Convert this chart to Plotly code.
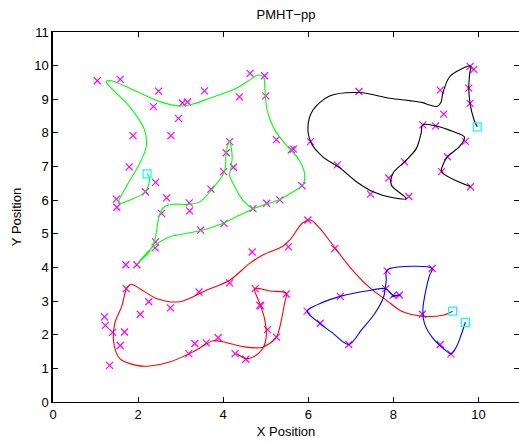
import plotly.graph_objects as go

# Measurement markers (magenta x)
mx = [1.04,1.58,2.48,2.36,3.04,3.16,2.95,3.56,4.38,4.63,4.97,5.00,1.88,2.77,5.25,5.60,5.65,4.15,4.07,4.24,4.01,1.79,2.41,2.17,3.71,5.85,1.49,1.50,2.67,3.20,3.21,4.70,5.02,5.33,2.55,3.47,4.02,2.41,2.40,1.71,1.97,
      5.99,4.68,5.53,6.62,4.15,3.43,1.72,2.25,2.76,2.05,4.75,5.48,4.86,4.88,5.04,5.25,1.21,1.23,1.40,1.68,1.58,1.33,3.33,3.60,3.88,3.19,4.28,4.53,
      7.19,9.10,9.80,9.89,9.77,9.80,9.18,8.69,8.99,9.69,9.27,9.13,9.81,6.05,6.68,8.26,7.89,7.46,8.36,
      7.85,8.91,7.82,7.99,8.14,6.75,5.97,6.28,6.95,8.68,9.10,9.35]
my = [9.55,9.59,9.24,8.78,8.89,8.92,8.43,9.25,9.07,9.77,9.70,9.10,7.92,7.92,7.80,7.50,7.52,7.74,7.41,6.98,6.85,6.99,6.53,6.25,6.33,6.43,6.03,5.79,6.07,5.92,5.68,5.75,5.91,6.01,5.61,5.11,5.31,4.76,4.58,4.08,4.08,
      5.41,4.46,4.61,4.56,3.54,3.27,3.37,2.98,2.80,2.61,3.37,3.21,2.88,2.86,2.15,1.93,2.53,2.28,2.07,2.08,1.68,1.09,1.74,1.76,1.91,1.44,1.44,1.27,
      9.23,9.27,9.98,9.89,9.33,8.88,8.56,8.24,8.21,7.75,7.29,6.85,6.40,7.74,7.05,7.14,6.66,6.18,6.11,
      3.90,3.97,3.37,3.17,3.18,3.14,2.70,2.34,1.71,2.61,1.71,1.43]

# Track start squares (cyan)
sx = [2.21, 9.97, 9.39, 9.69]
sy = [6.78, 8.18, 2.70, 2.37]

# Track estimates
green_x = [2.21,2.27,2.17,1.80,1.53,1.72,2.04,2.19,2.15,1.80,1.41,1.25,1.37,1.88,2.51,2.98,3.29,3.68,4.31,4.62,4.82,4.95,4.98,5.03,5.21,5.48,5.76,5.91,5.87,5.64,5.33,4.93,4.70,4.31,3.99,3.45,2.90,2.74,2.35,2.00,
           2.25,2.39,2.49,2.58,2.75,3.21,3.45,3.72,4.03,4.07,4.15,4.21,4.18,4.15,4.23,4.46,4.70]
green_y = [6.78,6.65,6.25,6.00,5.90,6.40,7.10,7.59,8.09,8.78,9.28,9.52,9.55,9.28,8.93,8.80,8.86,9.03,9.33,9.57,9.72,9.65,9.28,8.68,8.09,7.64,7.24,6.80,6.45,6.25,6.02,5.85,5.74,5.51,5.31,5.09,4.96,4.91,4.61,4.14,
           4.45,4.81,5.51,5.76,5.87,5.88,5.95,6.30,6.85,7.44,7.74,7.29,6.95,6.75,6.50,6.00,5.73]

black_x = [9.97,9.89,9.80,9.77,9.79,9.81,9.60,9.32,9.16,9.12,9.03,8.85,8.69,8.38,7.91,7.20,6.50,6.11,5.99,6.07,6.34,6.73,7.13,7.52,7.99,8.30,7.95,7.99,8.26,8.54,8.65,8.69,8.99,9.40,9.67,9.55,9.28,9.18,9.13,9.81]
black_y = [8.18,8.40,8.88,9.33,9.75,9.99,9.90,9.67,9.18,8.92,8.79,8.83,8.90,8.96,9.03,9.20,9.10,8.68,8.18,7.69,7.29,6.97,6.55,6.25,6.07,6.05,6.45,6.80,7.14,7.54,7.99,8.24,8.21,8.04,7.87,7.59,7.31,7.10,6.85,6.40]

red_x = [9.39,9.16,8.69,8.22,7.83,7.44,6.97,6.58,6.27,6.05,5.87,5.56,5.40,4.93,4.62,4.15,3.60,2.98,2.43,2.04,1.84,1.74,1.61,1.45,1.43,1.57,1.96,2.27,2.74,3.29,3.76,3.99,4.15,4.50,4.90,5.09,5.25,5.33,5.44,5.48,5.10,4.74,4.86,4.97,5.01,4.93,4.74,4.54,4.31]
red_y = [2.70,2.58,2.55,2.68,3.03,3.40,4.02,4.66,5.16,5.41,5.33,4.81,4.63,4.37,4.12,3.62,3.32,2.98,3.08,3.37,3.50,3.40,2.83,2.33,1.74,1.29,1.09,1.07,1.19,1.49,1.82,1.79,1.74,1.64,1.62,1.74,1.93,2.23,2.93,3.23,3.30,3.37,2.93,2.48,1.93,1.59,1.36,1.29,1.44]

blue_x = [9.69,9.59,9.48,9.35,9.20,8.93,8.73,8.69,8.76,8.85,8.91,7.85,7.83,7.77,7.56,7.24,6.95,6.58,6.28,5.97,6.19,6.75,7.36,7.82,7.99,8.17,7.95]
blue_y = [2.37,1.99,1.64,1.43,1.56,1.89,2.33,2.73,3.32,3.77,3.97,3.92,3.62,3.13,2.63,2.13,1.71,2.04,2.33,2.70,2.88,3.14,3.30,3.37,3.17,3.18,3.13]

tracks = [(green_x, green_y, "#00ff00"), (black_x, black_y, "#000000"),
          (red_x, red_y, "#ff0000"), (blue_x, blue_y, "#0000ff")]

fig = go.Figure()
fig.add_trace(go.Scatter(x=mx, y=my, mode="markers",
                         marker=dict(symbol="x-thin", size=7, line=dict(color="#ff00ff", width=1.2)),
                         hoverinfo="skip"))
for tx, ty, col in tracks:
    fig.add_trace(go.Scatter(x=tx, y=ty, mode="lines",
                             line=dict(color=col, width=1.1, shape="spline", smoothing=0.9)))
fig.add_trace(go.Scatter(x=sx, y=sy, mode="markers",
                         marker=dict(symbol="square-open", size=8, color="#00ffff", line=dict(width=1.2))))
# right-side ticks without a visible line
fig.add_trace(go.Scatter(x=[None], y=[None], yaxis="y2", showlegend=False))

font = dict(family="Liberation Sans, Arial, sans-serif", size=13, color="#000000")
fig.update_layout(
    width=519, height=442,
    margin=dict(l=53, r=0, t=32, b=40),
    paper_bgcolor="white", plot_bgcolor="white",
    showlegend=False,
    font=font,
    title=dict(text="PMHT\u2212pp", x=0.5, xref="paper", y=0.968, yanchor="middle",
               font=dict(family="Liberation Sans, Arial, sans-serif", size=13, color="#000")),
    xaxis=dict(range=[0, 10.95], tickvals=[0, 2, 4, 6, 8, 10], ticks="inside", ticklen=5,
               tickcolor="#000", showline=True, linecolor="#000", linewidth=1, mirror="ticks",
               showgrid=False, zeroline=False,
               title=dict(text="X Position", standoff=6, font=font)),
    yaxis=dict(range=[0, 11], tickvals=list(range(0, 12)), ticks="inside", ticklen=5,
               tickcolor="#000", showline=True, linecolor="#000", linewidth=1.5, mirror=False,
               showgrid=False, zeroline=False,
               title=dict(text="Y Position", standoff=10, font=font)),
    yaxis2=dict(range=[0, 11], tickvals=list(range(0, 12)), overlaying="y", side="right",
                ticks="inside", ticklen=5, tickcolor="#000", showticklabels=False,
                showline=False, showgrid=False, zeroline=False),
)
fig.write_html("out.html")
